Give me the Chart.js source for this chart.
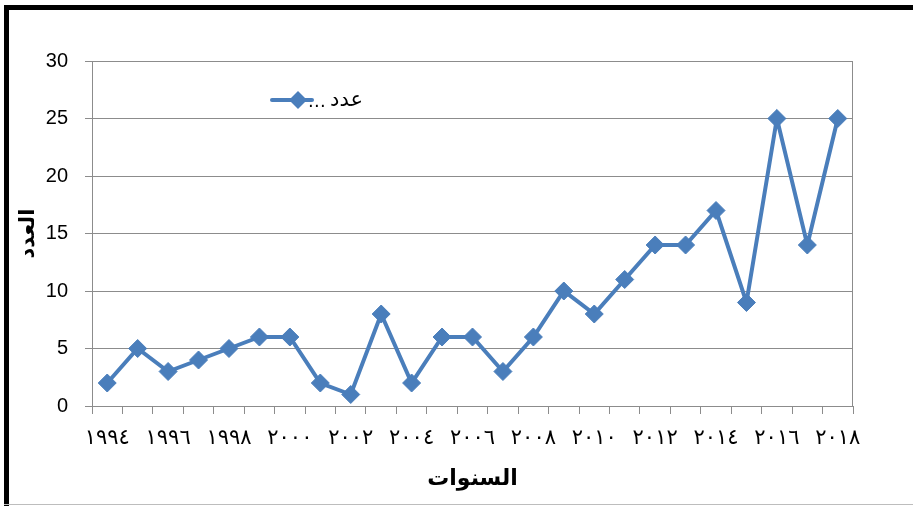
<!DOCTYPE html>
<html>
<head>
<meta charset="utf-8">
<script src="https://cdn.jsdelivr.net/npm/chart.js@4/dist/chart.umd.min.js"></script>
<style>
    body { margin: 0; background: #fff; }
    #wrap { position: relative; width: 913px; height: 506px; overflow: hidden; }
    #chart { position: absolute; left: 0; top: 0; }
    .frame-left { position: absolute; left: 4px; top: 5px; width: 5px; height: 501px; background: #000; }
    .frame-top { position: absolute; left: 4px; top: 5px; width: 909px; height: 5px; background: #000; }
    .frame-bottom { position: absolute; left: 4px; top: 504px; width: 909px; height: 1px; background: #bdbdbd; }
</style>
</head>
<body>
<div id="wrap">
    <canvas id="chart" width="913" height="506"></canvas>
    <div class="frame-left"></div>
    <div class="frame-top"></div>
    <div class="frame-bottom"></div>
</div>
<script>
// السنوات (ارقام هندية)
const years = ['١٩٩٤', '١٩٩٥', '١٩٩٦', '١٩٩٧', '١٩٩٨', '١٩٩٩', '٢٠٠٠', '٢٠٠١', '٢٠٠٢', '٢٠٠٣',
    '٢٠٠٤', '٢٠٠٥', '٢٠٠٦', '٢٠٠٧', '٢٠٠٨', '٢٠٠٩', '٢٠١٠', '٢٠١١', '٢٠١٢', '٢٠١٣',
    '٢٠١٤', '٢٠١٥', '٢٠١٦', '٢٠١٧', '٢٠١٨'];
// العدد
const counts = [2, 5, 3, 4, 5, 6, 6, 2, 1, 8, 2, 6, 6, 3, 6, 10, 8, 11, 14, 14, 17, 9, 25, 14, 25];
const yTicks = [0, 5, 10, 15, 20, 25, 30];

const blue = '#4a7ebb';

// اطار منطقة الرسم + وسيلة الايضاح داخلها
const plotFrame = {
    id: 'plotFrame',
    beforeDatasetsDraw(chart) {
        const a = chart.chartArea;
        const ctx = chart.ctx;
        ctx.save();
        ctx.strokeStyle = '#8c8c8c';
        ctx.lineWidth = 1;
        ctx.strokeRect(a.left + 0.5, a.top + 0.5, a.right - a.left - 1, a.bottom - a.top);
        ctx.restore();
    },
    afterDraw(chart) {
        const ctx = chart.ctx;
        const y = 100;
        ctx.save();
        ctx.strokeStyle = blue;
        ctx.lineWidth = 4;
        ctx.lineCap = 'round';
        ctx.beginPath();
        ctx.moveTo(272, y);
        ctx.lineTo(312, y);
        ctx.stroke();
        ctx.fillStyle = blue;
        ctx.beginPath();
        ctx.moveTo(298, y - 9);
        ctx.lineTo(307, y);
        ctx.lineTo(298, y + 9);
        ctx.lineTo(289, y);
        ctx.closePath();
        ctx.fill();
        ctx.fillStyle = '#000';
        ctx.textBaseline = 'alphabetic';
        ctx.font = '18px "DejaVu Sans"';
        ctx.textAlign = 'left';
        ctx.fillText('.', 308, y + 7);
        ctx.fillText('.', 314, y + 7);
        ctx.fillText('.', 320, y + 7);
        ctx.font = '21px "DejaVu Sans"';
        ctx.textAlign = 'right';
        ctx.fillText(chart.data.datasets[0].label, 363, y + 6);
        ctx.restore();
    }
};

new Chart(document.getElementById('chart'), {
    type: 'line',
    data: {
        labels: years,
        datasets: [{
            label: 'عدد',
            data: counts,
            borderColor: blue,
            backgroundColor: blue,
            borderWidth: 4,
            pointStyle: 'rectRot',
            pointRadius: 9,
            pointBorderWidth: 1,
            pointBackgroundColor: blue,
            pointBorderColor: blue,
            tension: 0
        }]
    },
    options: {
        responsive: false,
        animation: false,
        layout: { padding: { left: 0, top: 61, right: 60, bottom: 0 } },
        plugins: {
            legend: { display: false },
            tooltip: { enabled: false }
        },
        scales: {
            x: {
                offset: true,
                afterFit: s => { s.height = 100; },
                grid: {
                    offset: true,
                    drawOnChartArea: false,
                    drawTicks: true,
                    tickLength: 8,
                    color: '#8c8c8c'
                },
                border: { color: '#8c8c8c' },
                ticks: {
                    autoSkip: false,
                    maxRotation: 0,
                    padding: 12,
                    color: '#000',
                    font: { family: 'DejaVu Sans', size: 21 },
                    callback: (v, i) => (i % 2 === 0 ? years[i] : '')
                },
                title: {
                    display: true,
                    text: 'السنوات',
                    color: '#000',
                    font: { family: 'DejaVu Sans', size: 22, weight: 'bold' },
                    padding: { top: 14, bottom: 14 }
                }
            },
            y: {
                min: 0,
                max: 30,
                afterFit: s => { s.width = 92; },
                afterBuildTicks: s => { s.ticks = yTicks.map(v => ({ value: v })); },
                grid: {
                    color: '#8c8c8c',
                    tickLength: 7
                },
                border: { color: '#8c8c8c' },
                ticks: {
                    padding: 17,
                    color: '#000',
                    font: { family: 'Liberation Sans', size: 20 }
                },
                title: {
                    display: true,
                    text: 'العدد',
                    color: '#000',
                    font: { family: 'DejaVu Sans', size: 21, weight: 'bold' },
                    padding: { top: 16, bottom: 16 }
                }
            }
        }
    },
    plugins: [plotFrame]
});
</script>
</body>
</html>
